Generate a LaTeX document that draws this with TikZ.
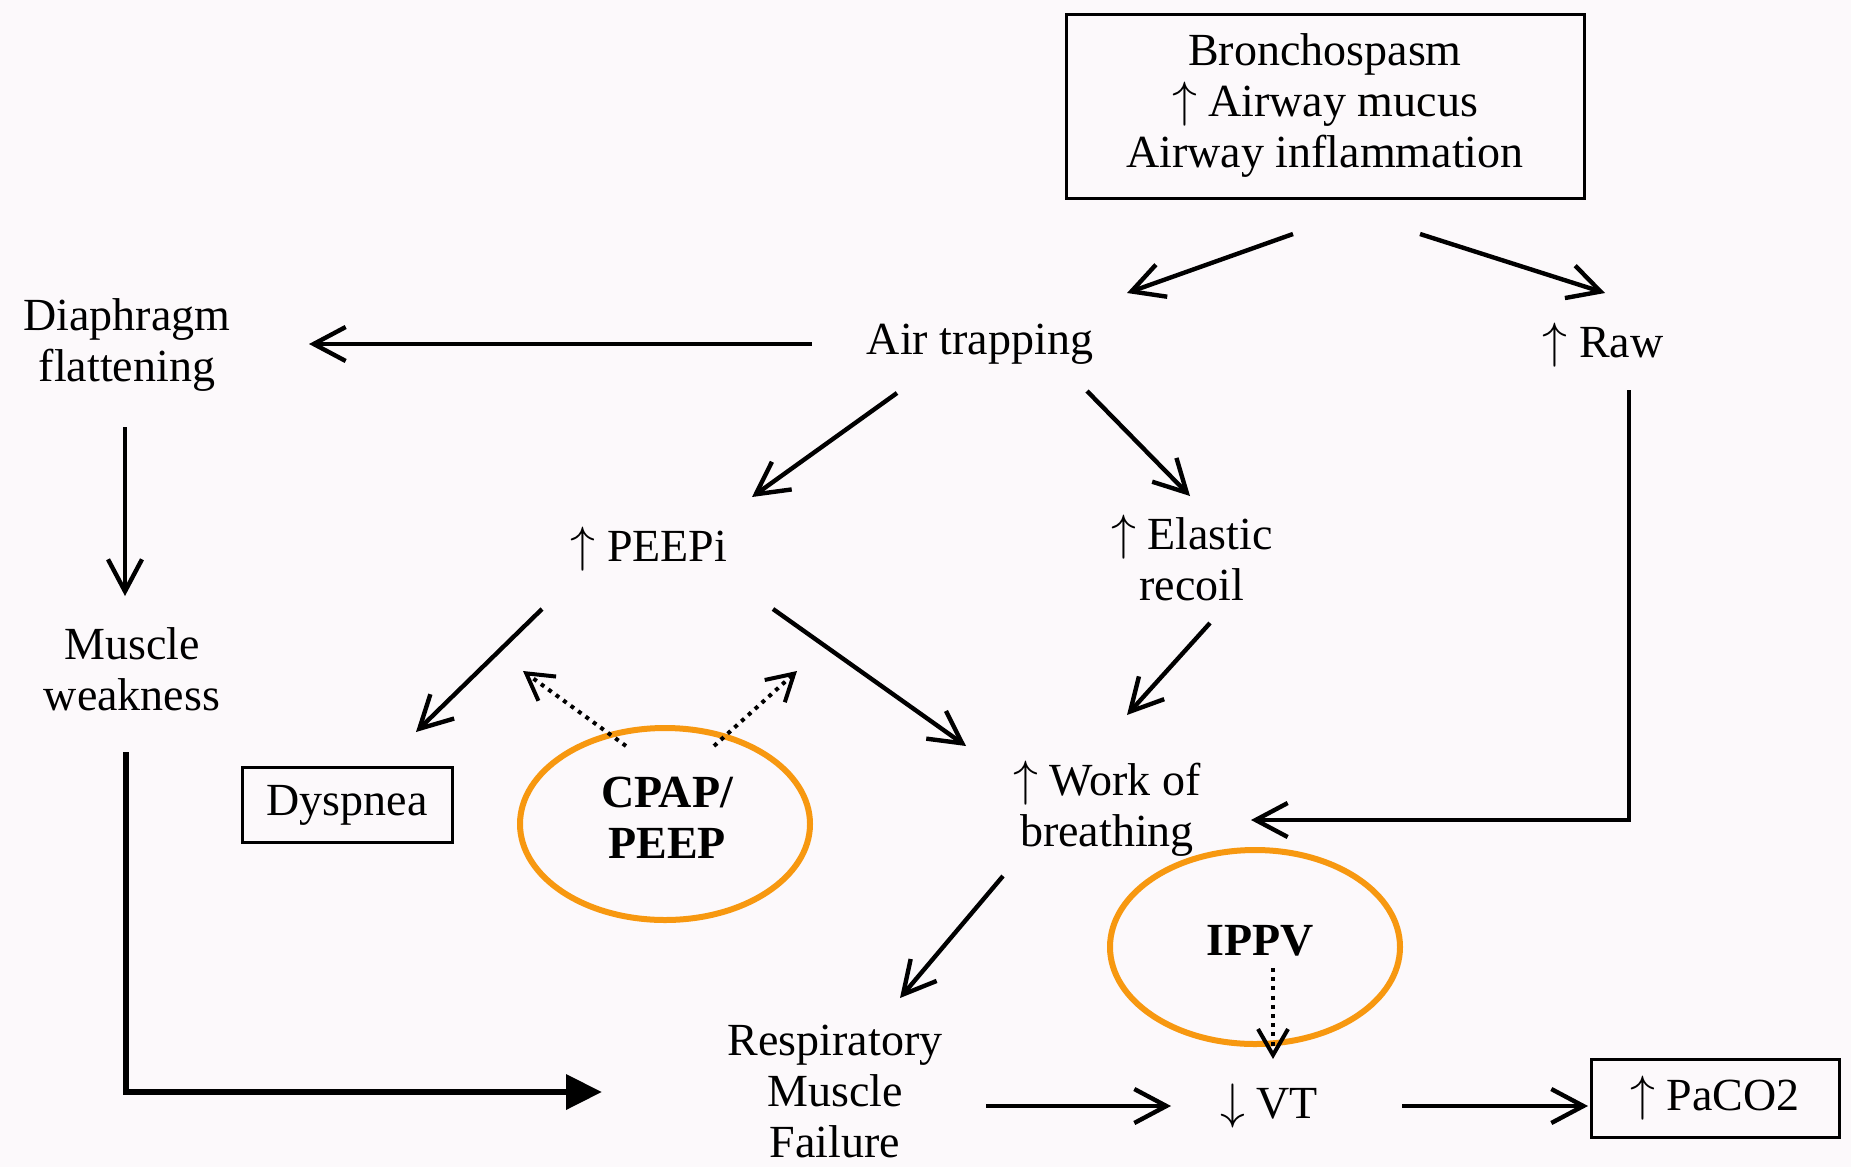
\documentclass[tikz,border=0pt]{standalone}
\usepackage{fontspec}
\setmainfont{Liberation Serif}
\usepackage{tikz}
\usetikzlibrary{arrows.meta,calc}
\definecolor{ringorange}{RGB}{247,152,16}
\definecolor{paper}{RGB}{252,249,251}

\begin{document}
\begin{tikzpicture}[x=0.5pt,y=-0.5pt,
  lbl/.style={align=center,inner sep=0pt,font=\fontsize{23}{25.5}\selectfont},
  box/.style={lbl,draw,line width=1.5pt},
  arr/.style={line width=2.2pt,-{Straight Barb[length=16pt,width=17pt]}},
  fat/.style={line width=3.4pt,-{Triangle[length=18pt,width=17pt]}},
  dots/.style={line width=2pt,dash pattern=on 2pt off 2.6pt,-{Straight Barb[length=13pt,width=15pt,line width=2pt]}},
  ring/.style={draw=ringorange,line width=3pt}]
\fill[paper] (0,0) rectangle (1851,1167);
\useasboundingbox (0,0) rectangle (1851,1167);
\node[box,minimum width=259pt,minimum height=92pt] (bronch) at (1325,106) {Bronchospasm\\$\uparrow$ Airway mucus\\Airway inflammation};
\node[lbl] (trap) at (980,344) {Air trapping};
\node[lbl] (diaph) at (127,345) {Diaphragm\\flattening};
\node[lbl] (raw) at (1603,345) {$\uparrow$ Raw};
\node[lbl] (peepi) at (649,549) {$\uparrow$ PEEPi};
\node[lbl] (elastic) at (1192,558) {$\uparrow$ Elastic\\recoil};
\node[lbl] (weak) at (132,669) {Muscle\\weakness};
\node[box,minimum width=105pt,minimum height=37.5pt] (dysp) at (347,805) {Dyspnea};
\node[lbl,font=\fontsize{23}{25.5}\selectfont\bfseries] (cpap) at (667,818) {CPAP/\\PEEP};
\node[lbl] (work) at (1107,809) {$\uparrow$ Work of\\breathing};
\node[lbl,font=\fontsize{23}{25.5}\selectfont\bfseries] (ippv) at (1260,941) {IPPV};
\node[lbl] (resp) at (835,1091) {Respiratory\\Muscle\\Failure};
\node[lbl] (vt) at (1269,1106) {$\downarrow$ VT};
\node[box,minimum width=124pt,minimum height=39pt] (paco) at (1715,1098) {$\uparrow$ PaCO2};
\draw[ring] ($(cpap)+(-2,6)$) ellipse [x radius=72.5pt,y radius=48pt];
\draw[ring] ($(ippv)+(-5,6)$) ellipse [x radius=72.5pt,y radius=48.5pt];
\draw[arr] ($(bronch)+(-32,128)$) -- ($(trap)+(147,-51)$);
\draw[arr] ($(bronch)+(95,128)$) -- ($(raw)+(2,-52)$);
\draw[arr] ($(trap)+(-168,0)$) -- ($(diaph)+(182,-1)$);
\draw[arr] ($(diaph)+(-2,82)$) -- ($(weak)+(-7,-73)$);
\draw[arr] ($(trap)+(-83,49)$) -- ($(peepi)+(103,-52)$);
\draw[arr] ($(trap)+(107,47)$) -- ($(elastic)+(-2,-62)$);
\draw[arr] ($(raw)+(26,45)$) |- ($(work)+(144,11)$);
\draw[arr] ($(peepi)+(-107,60)$) -- ($(dysp)+(69,-73)$);
\draw[arr] ($(peepi)+(124,60)$) -- ($(work)+(-141,-63)$);
\draw[arr] ($(elastic)+(18,65)$) -- ($(work)+(20,-94)$);
\draw[dots] ($(cpap)+(-41,-72)$) -- ($(peepi)+(-126,122)$);
\draw[dots] ($(cpap)+(47,-72)$) -- ($(peepi)+(148,122)$);
\draw[fat] ($(weak)+(-6,83)$) |- ($(resp)+(-233,1)$);
\draw[arr] ($(work)+(-104,67)$) -- ($(resp)+(65,-93)$);
\draw[arr] ($(resp)+(151,15)$) -- ($(vt)+(-98,0)$);
\draw[arr] ($(vt)+(133,0)$) -- ($(paco)+(-127,8)$);
\draw[dots] ($(ippv)+(13,27)$) -- ($(vt)+(4,-47)$);
\end{tikzpicture}
\end{document}
